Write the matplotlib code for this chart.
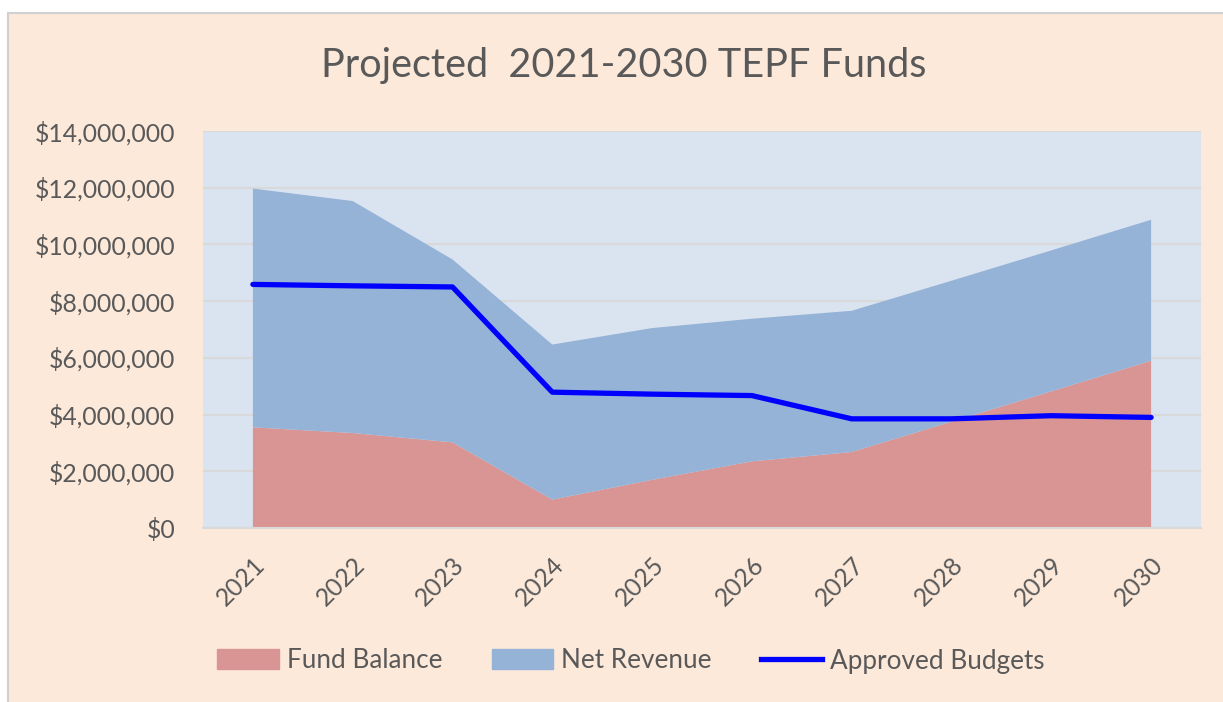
import matplotlib
matplotlib.use("Agg")
import matplotlib.pyplot as plt
from matplotlib.patches import Rectangle, Patch
from matplotlib.lines import Line2D
from matplotlib.ticker import FuncFormatter

plt.rcParams['font.family'] = ['Lato', 'DejaVu Sans']

# data (dollars)
years = ['2021', '2022', '2023', '2024', '2025', '2026', '2027', '2028', '2029', '2030']
fund_balance = [3550000, 3350000, 3020000, 1000000, 1700000, 2350000, 2680000, 3750000, 4820000, 5900000]
total_top = [11970000, 11530000, 9470000, 6470000, 7050000, 7380000, 7660000, 8720000, 9790000, 10870000]
net_revenue = [t - f for t, f in zip(total_top, fund_balance)]
approved_budgets = [8590000, 8540000, 8500000, 4790000, 4720000, 4670000, 3850000, 3850000, 3960000, 3900000]

text_col = '#595959'
peach = '#FCE9DA'
plot_bg = '#DAE3F0'
red = '#D99594'
blue = '#95B3D7'
grid_col = '#D9D9D9'

W, H = 1223, 702
fig = plt.figure(figsize=(W / 100, H / 100), dpi=100)
fig.patch.set_facecolor('white')
fig.patches.append(Rectangle((8 / W, -0.01), 1.01 - 8 / W, 1.01 - 13 / H, transform=fig.transFigure,
                             facecolor=peach, edgecolor='#D0D0D0', linewidth=1.5, zorder=0))

ax = fig.add_axes([203 / W, 1 - 528 / H, (1201 - 203) / W, (528 - 131) / H])
ax.set_zorder(2)
ax.set_facecolor(plot_bg)

x = list(range(len(years)))
ax.stackplot(x, fund_balance, net_revenue, colors=[red, blue], zorder=2)
ax.plot(x, approved_budgets, color='#0000FF', linewidth=3.8, solid_capstyle='round', zorder=3)

ax.set_xlim(-0.5, len(years) - 0.5)
ax.set_ylim(0, 14000000)
ax.set_yticks(range(0, 14000001, 2000000))
ax.yaxis.set_major_formatter(FuncFormatter(lambda v, p: '${:,.0f}'.format(v)))
ax.set_xticks(x)
ax.set_xticklabels(years, rotation=45, ha='right', rotation_mode='anchor')

ax.grid(axis='y', color=grid_col, linewidth=1.5, zorder=1)
ax.set_axisbelow(True)
for s in ['top', 'right', 'left']:
    ax.spines[s].set_visible(False)
ax.spines['bottom'].set_color(grid_col)
ax.spines['bottom'].set_linewidth(1.5)
ax.spines['bottom'].set_zorder(4)
ax.tick_params(axis='both', length=0, labelsize=17.8, labelcolor=text_col)
ax.tick_params(axis='y', pad=20)
ax.tick_params(axis='x', pad=18)
for lbl in ax.get_xticklabels():
    lbl.set_x(lbl.get_position()[0])

fig.text(0.510, 1 - 65 / H, 'Projected  2021-2030 TEPF Funds', ha='center', va='center',
         fontsize=28.5, color=text_col)

handles = [Patch(facecolor=red, edgecolor=red),
           Patch(facecolor=blue, edgecolor=blue),
           Line2D([0], [0], color='#0000FF', linewidth=3.8)]
fig.legend(handles, ['Fund Balance', 'Net Revenue', 'Approved Budgets'],
           loc='center', bbox_to_anchor=(0.516, 1 - 661 / H), ncol=3, frameon=False,
           fontsize=18.8, labelcolor=text_col, handlelength=2.35, handleheight=0.8,
           columnspacing=1.9, handletextpad=0.3)

fig.savefig('out.png', dpi=100, facecolor=fig.get_facecolor())
